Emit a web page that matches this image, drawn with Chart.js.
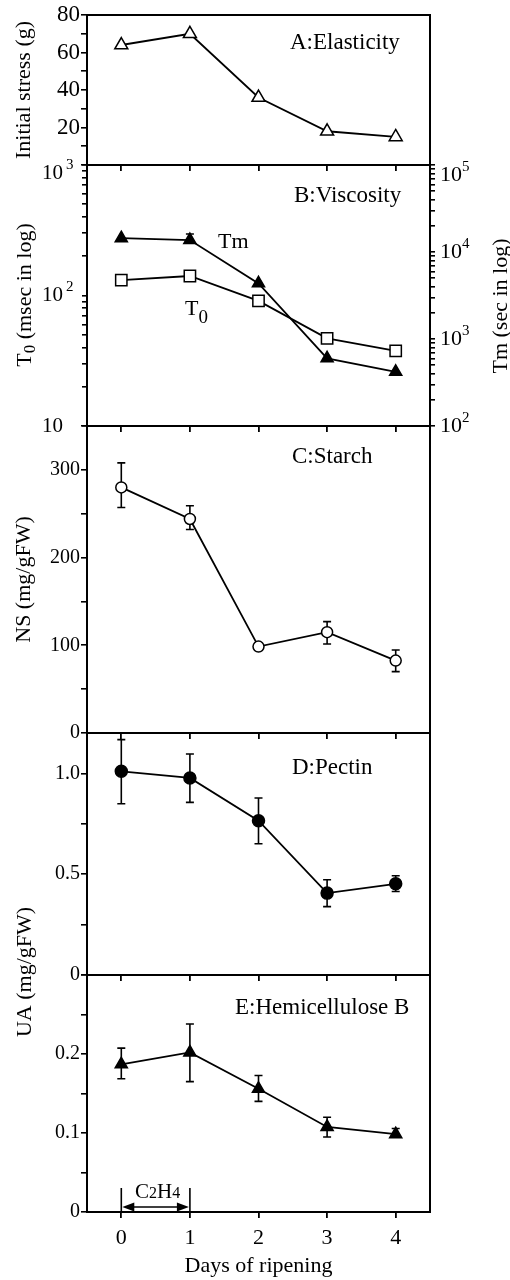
<!DOCTYPE html>
<html><head><meta charset="utf-8">
<script src="https://cdn.jsdelivr.net/npm/chart.js@4"></script>
<style>
html,body{margin:0;padding:0;background:#fff;}
#wrap{position:relative;width:510px;height:1280px;overflow:hidden;background:#fff;}
canvas{position:absolute;left:0;top:0;}
</style></head><body>
<div id="wrap">
<canvas id="cA" width="510" height="1280"></canvas>
<canvas id="cB" width="510" height="1280"></canvas>
<canvas id="cC" width="510" height="1280"></canvas>
<canvas id="cD" width="510" height="1280"></canvas>
<canvas id="cE" width="510" height="1280"></canvas>
</div>
<script>
// ---------- data ----------
const days = [0, 1, 2, 3, 4];
const dayLabels = ['0', '1', '2', '3', '4'];

const elasticity = [64, 70, 36, 18, 15];

const t0Values = [131, 141, 91, 47, 37.6];
const tmValues = [14400, 13700, 4360, 600, 420];
const tmErrHi = [null, 16100, null, null, null];

const starch = [280, 244, 98.5, 115, 82.6];
const starchErrHi = [308, 259, null, 127, 94.7];
const starchErrLo = [257, 232, null, 101.5, 70];

const pectin = [1.01, 0.977, 0.765, 0.406, 0.452];
const pectinErrHi = [1.167, 1.096, 0.878, 0.472, 0.492];
const pectinErrLo = [0.849, 0.856, 0.651, 0.339, 0.414];

const hemi = [0.187, 0.202, 0.156, 0.1077, 0.0985];
const hemiErrHi = [0.2075, 0.238, 0.1727, 0.120, 0.1057];
const hemiErrLo = [0.1686, 0.165, 0.14, 0.095, 0.0955];

// tick values / labels
const aTickVals = [0, 10, 20, 30, 40, 50, 60, 70, 80];
const aTickLabels = ['', '', '20', '', '40', '', '60', '', '80'];
const t0TickVals = [10, 20, 30, 40, 50, 60, 70, 80, 90, 100, 200, 300, 400, 500, 600, 700, 800, 900, 1000];
const t0Major = [10, 100, 1000];
const t0Exp = ['', '2', '3'];
const tmTickVals = [100, 200, 300, 400, 500, 600, 700, 800, 900, 1000, 2000, 3000, 4000, 5000, 6000, 7000, 8000, 9000,
  10000, 20000, 30000, 40000, 50000, 60000, 70000, 80000, 90000, 100000];
const tmMajor = [100, 1000, 10000, 100000];
const tmExp = ['2', '3', '4', '5'];
const cTickVals = [0, 50, 100, 150, 200, 250, 300, 350];
const cTickLabels = ['0', '', '100', '', '200', '', '300', ''];
const dTickVals = [0, 0.25, 0.5, 0.75, 1.0];
const dTickLabels = ['0', '', '0.5', '', '1.0'];
const eTickVals = [0, 0.05, 0.1, 0.15, 0.2, 0.25, 0.3];
const eTickLabels = ['0', '', '0.1', '', '0.2', '', ''];

// ---------- helpers ----------
const SERIF = "'Liberation Serif','Times New Roman',serif";
Chart.defaults.font.family = SERIF;
Chart.defaults.color = '#000';

function pts(vals) { return days.map((d, i) => ({ x: d, y: vals[i] })); }

function rich(ctx, segs, x, y, align, rot, baseline) {
  ctx.save();
  ctx.translate(x, y);
  if (rot) ctx.rotate(rot);
  ctx.fillStyle = '#000';
  ctx.textBaseline = baseline || 'middle';
  ctx.textAlign = 'left';
  let w = 0;
  segs.forEach(s => { ctx.font = s[1] + 'px ' + SERIF; w += ctx.measureText(s[0]).width; });
  let cx = align === 'center' ? -w / 2 : align === 'right' ? -w : 0;
  segs.forEach(s => {
    ctx.font = s[1] + 'px ' + SERIF;
    ctx.fillText(s[0], cx, s[2] || 0);
    cx += ctx.measureText(s[0]).width;
  });
  ctx.restore();
}

const framePlugin = {
  id: 'frame',
  afterDraw(chart) {
    const { ctx, chartArea: a } = chart;
    ctx.save();
    ctx.strokeStyle = '#000';
    ctx.lineWidth = 2;
    ctx.strokeRect(a.left, a.top, a.right - a.left, a.bottom - a.top);
    ctx.restore();
  }
};

const errPlugin = {
  id: 'errbars',
  beforeDatasetsDraw(chart) {
    const ctx = chart.ctx;
    chart.data.datasets.forEach((ds, di) => {
      if (!ds.errHi && !ds.errLo) return;
      const meta = chart.getDatasetMeta(di);
      const ys = chart.scales[meta.yAxisID];
      const xs = chart.scales[meta.xAxisID];
      ds.data.forEach((p, i) => {
        const hi = ds.errHi ? ds.errHi[i] : null;
        const lo = ds.errLo ? ds.errLo[i] : null;
        if (hi == null && lo == null) return;
        const x = xs.getPixelForValue(p.x);
        const yv = ys.getPixelForValue(p.y);
        const yh = hi == null ? yv : ys.getPixelForValue(hi);
        const yl = lo == null ? yv : ys.getPixelForValue(lo);
        ctx.save();
        ctx.strokeStyle = '#000';
        ctx.lineWidth = 1.6;
        ctx.beginPath();
        ctx.moveTo(x, yh); ctx.lineTo(x, yl);
        if (hi != null) { ctx.moveTo(x - 4, yh); ctx.lineTo(x + 4, yh); }
        if (lo != null) { ctx.moveTo(x - 4, yl); ctx.lineTo(x + 4, yl); }
        ctx.stroke();
        ctx.restore();
      });
    });
  }
};

function xAxis(show, h) {
  return {
    type: 'linear', min: -0.5, max: 4.5, position: 'bottom',
    afterBuildTicks: s => { s.ticks = days.map(v => ({ value: v })); },
    afterFit: s => { s.height = h; },
    grid: { drawOnChartArea: false, drawTicks: true, tickLength: 6, color: '#000', lineWidth: 1.8 },
    border: { display: true, color: '#000', width: 2 },
    ticks: { display: show, padding: 7, font: { size: 22 }, color: '#000', maxRotation: 0, autoSkip: false,
      callback: (v, i) => dayLabels[i] },
    title: show ? { display: true, text: 'Days of ripening', font: { size: 22 }, color: '#000', padding: { top: 0, bottom: 1 } } : { display: false }
  };
}

function yAxis(min, max, vals, labels, size, title) {
  return {
    type: 'linear', position: 'left', min, max,
    afterBuildTicks: s => { s.ticks = vals.map(v => ({ value: v })); },
    afterFit: s => { s.width = 87; },
    grid: { drawOnChartArea: false, tickLength: 6, color: '#000', lineWidth: 1.6 },
    border: { display: true, color: '#000', width: 2 },
    ticks: { padding: 1, font: { size }, color: '#000', autoSkip: false, callback: (v, i) => labels[i] },
    title: title ? { display: true, text: title, font: { size: 22 }, color: '#000', padding: { top: 11, bottom: 0 } } : { display: false }
  };
}

function base(top, bottom, xH, rightPad) {
  return {
    responsive: false, animation: false, events: [],
    layout: { padding: { top, bottom: 1280 - bottom - xH, left: 0, right: rightPad } },
    plugins: { legend: { display: false }, tooltip: { enabled: false } }
  };
}

function lineDs(vals, style, radius, filled, extra) {
  return Object.assign({
    data: pts(vals), borderColor: '#000', borderWidth: 1.8, tension: 0,
    pointStyle: style, pointRadius: radius, pointBorderWidth: 1.5,
    pointBorderColor: '#000', pointBackgroundColor: filled ? '#000' : '#fff'
  }, extra || {});
}

// ---------- Panel A ----------
new Chart(document.getElementById('cA'), {
  type: 'line',
  data: { datasets: [lineDs(elasticity, 'triangle', 7.5, false)] },
  options: Object.assign(base(15, 165, 8, 80), {
    scales: { x: xAxis(false, 8), y: yAxis(0, 80, aTickVals, aTickLabels, 23, 'Initial stress (g)') }
  }),
  plugins: [framePlugin, { id: 'tA', afterDraw(c) { rich(c.ctx, [['A:Elasticity', 23]], 290, 43, 'left'); } }]
});

// ---------- Panel B ----------
const bY = yAxis(10, 1000, t0TickVals, t0TickVals.map(() => ''), 21, null);
bY.type = 'logarithmic';
bY.ticks.display = false;
bY.grid.tickLength = 5;
new Chart(document.getElementById('cB'), {
  type: 'line',
  data: { datasets: [
    lineDs(t0Values, 'rect', 8, false, { yAxisID: 'y' }),
    lineDs(tmValues, 'triangle', 7, true, { yAxisID: 'y2', errHi: tmErrHi })
  ] },
  options: Object.assign(base(165, 426, 8, 0), {
    scales: {
      x: xAxis(false, 8),
      y: bY,
      y2: {
        type: 'logarithmic', position: 'right', min: 100, max: 100000,
        afterBuildTicks: s => { s.ticks = tmTickVals.map(v => ({ value: v })); },
        afterFit: s => { s.width = 80; },
        grid: { drawOnChartArea: false, tickLength: 5, color: '#000', lineWidth: 1.6 },
        border: { display: true, color: '#000', width: 2 },
        ticks: { display: false, autoSkip: false }
      }
    }
  }),
  plugins: [framePlugin, errPlugin, { id: 'tB', afterDraw(c) {
    const ctx = c.ctx, yl = c.scales.y, yr = c.scales.y2;
    t0Major.forEach((v, i) => {
      const py = yl.getPixelForValue(v) + (v === yl.max ? 8 : 0);
      rich(ctx, [['10', 21]], 63, py, 'right');
      if (t0Exp[i]) rich(ctx, [[t0Exp[i], 15]], 66, py - 8, 'left');
    });
    tmMajor.forEach((v, i) => {
      const py = yr.getPixelForValue(v) + (v === yr.max ? 10 : 0);
      rich(ctx, [['10', 22], [tmExp[i], 15, -8]], 440, py, 'left');
    });
    rich(ctx, [['B:Viscosity', 23]], 294, 196, 'left');
    rich(ctx, [['Tm', 22]], 218, 242, 'left');
    rich(ctx, [['T', 22], ['0', 19, 9]], 185, 309, 'left');
    rich(ctx, [['T', 22], ['0', 17, 6], [' (msec in log)', 22]], 25, 295, 'center', -Math.PI / 2);
    rich(ctx, [['Tm (sec in log)', 22]], 501, 306, 'center', -Math.PI / 2);
  } }]
});

// ---------- Panel C ----------
new Chart(document.getElementById('cC'), {
  type: 'line',
  data: { datasets: [lineDs(starch, 'circle', 5.5, false, { errHi: starchErrHi, errLo: starchErrLo })] },
  options: Object.assign(base(426, 733, 8, 80), {
    scales: { x: xAxis(false, 8), y: yAxis(0, 350, cTickVals, cTickLabels, 20, 'NS (mg/gFW)') }
  }),
  plugins: [framePlugin, errPlugin, { id: 'tC', afterDraw(c) { rich(c.ctx, [['C:Starch', 23]], 292, 457, 'left'); } }]
});

// ---------- Panel D ----------
new Chart(document.getElementById('cD'), {
  type: 'line',
  data: { datasets: [lineDs(pectin, 'circle', 6, true, { errHi: pectinErrHi, errLo: pectinErrLo })] },
  options: Object.assign(base(733, 975, 8, 80), {
    scales: { x: xAxis(false, 8), y: yAxis(0, 1.2, dTickVals, dTickLabels, 20, null) }
  }),
  plugins: [framePlugin, errPlugin, { id: 'tD', afterDraw(c) { rich(c.ctx, [['D:Pectin', 23]], 292, 768, 'left'); } }]
});

// ---------- Panel E ----------
new Chart(document.getElementById('cE'), {
  type: 'line',
  data: { datasets: [lineDs(hemi, 'triangle', 7, true, { errHi: hemiErrHi, errLo: hemiErrLo })] },
  options: Object.assign(base(975, 1212, 68, 80), {
    scales: { x: xAxis(true, 68), y: yAxis(0, 0.3, eTickVals, eTickLabels, 20, null) }
  }),
  plugins: [framePlugin, errPlugin, { id: 'tE', afterDraw(c) {
    const ctx = c.ctx, xs = c.scales.x, ys = c.scales.y;
    rich(ctx, [['E:Hemicellulose B', 23]], 235, 1008, 'left');
    rich(ctx, [['UA (mg/gFW)', 22]], 25, 972, 'center', -Math.PI / 2);
    // C2H4 treatment period (day 0 to day 1)
    const x0 = xs.getPixelForValue(days[0]), x1 = xs.getPixelForValue(days[1]);
    const yb = ys.getPixelForValue(0);
    const ya = yb - 5;
    ctx.save();
    ctx.strokeStyle = '#000'; ctx.fillStyle = '#000'; ctx.lineWidth = 1.6;
    ctx.beginPath();
    ctx.moveTo(x0, yb); ctx.lineTo(x0, yb - 24);
    ctx.moveTo(x1, yb); ctx.lineTo(x1, yb - 24);
    ctx.moveTo(x0 + 10, ya); ctx.lineTo(x1 - 10, ya);
    ctx.stroke();
    ctx.beginPath();
    ctx.moveTo(x0 + 1, ya); ctx.lineTo(x0 + 13, ya - 4.5); ctx.lineTo(x0 + 13, ya + 4.5); ctx.closePath();
    ctx.moveTo(x1 - 1, ya); ctx.lineTo(x1 - 13, ya - 4.5); ctx.lineTo(x1 - 13, ya + 4.5); ctx.closePath();
    ctx.fill();
    ctx.restore();
    rich(ctx, [['C', 21], ['2', 16], ['H', 21], ['4', 16]], (x0 + x1) / 2 + 2, yb - 14, 'center', 0, 'alphabetic');
  } }]
});
</script>
</body></html>
